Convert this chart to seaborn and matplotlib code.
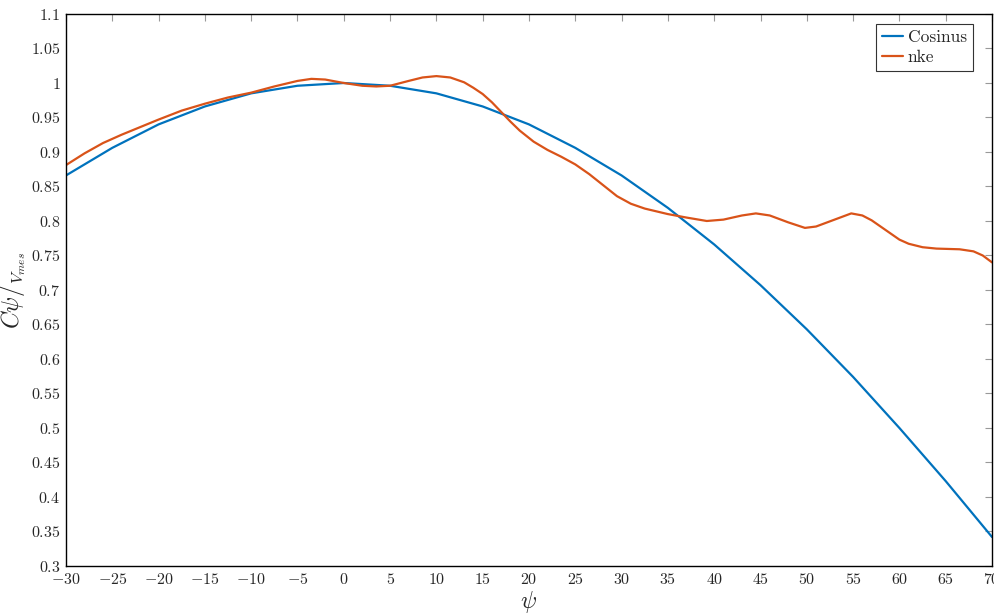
import numpy as np
import pandas as pd
import seaborn as sns
import matplotlib.pyplot as plt
from matplotlib.ticker import FuncFormatter, MultipleLocator

# values
psi_cos = [-30, -25, -20, -15, -10, -5, 0, 5, 10, 15, 20, 25, 30, 35, 40, 45, 50, 55, 60, 65, 70]
cosinus = [0.866, 0.906, 0.940, 0.966, 0.985, 0.996, 1.000, 0.996, 0.985, 0.966, 0.940,
           0.906, 0.866, 0.819, 0.766, 0.707, 0.643, 0.574, 0.500, 0.423, 0.342]

psi_nke = [-30, -28, -26, -24, -22, -20, -17.5, -15, -12.5, -10, -7.5, -5, -3.5, -2, 0,
           2, 3.5, 5, 7, 8.5, 10, 11.5, 13, 14, 15, 16, 17, 18, 19, 20.5, 22, 23.5, 25,
           26.5, 28, 29.5, 31, 32.5, 35, 37, 39.2, 41, 43, 44.5, 46, 48, 49.8, 51, 53,
           54.8, 56, 57, 58.5, 60, 61, 62.5, 64, 66.5, 68, 69, 70]
nke = [0.881, 0.898, 0.913, 0.925, 0.936, 0.947, 0.960, 0.970, 0.979, 0.986, 0.995, 1.003,
       1.006, 1.005, 1.000, 0.996, 0.995, 0.996, 1.003, 1.008, 1.010, 1.008, 1.001, 0.993,
       0.984, 0.972, 0.958, 0.944, 0.931, 0.915, 0.903, 0.893, 0.882, 0.868, 0.852, 0.836,
       0.825, 0.818, 0.810, 0.805, 0.800, 0.802, 0.808, 0.811, 0.808, 0.798, 0.790, 0.792,
       0.802, 0.811, 0.808, 0.801, 0.787, 0.773, 0.767, 0.762, 0.760, 0.759, 0.756, 0.750,
       0.740]

df = pd.concat([
    pd.DataFrame({'psi': psi_cos, 'val': cosinus, 'serie': 'Cosinus'}),
    pd.DataFrame({'psi': psi_nke, 'val': nke, 'serie': 'nke'}),
])

sns.set_style('white')
plt.rcParams['mathtext.fontset'] = 'cm'
plt.rcParams['font.family'] = ['cmr10', 'DejaVu Serif']
plt.rcParams['axes.formatter.use_mathtext'] = True

fig = plt.figure(figsize=(9.95, 6.14), dpi=100)
ax = fig.add_axes([0.0663, 0.0782, 0.9307, 0.899])

sns.lineplot(data=df, x='psi', y='val', hue='serie', sort=False,
             palette={'Cosinus': '#0072BD', 'nke': '#D95319'}, linewidth=1.6, ax=ax)

ax.set_xlim(-30, 70)
ax.set_ylim(0.3, 1.1)
ax.xaxis.set_major_locator(MultipleLocator(5))
ax.yaxis.set_major_locator(MultipleLocator(0.05))
fmt = FuncFormatter(lambda v, p: '$%s$' % ('%g' % round(v, 2)))
ax.xaxis.set_major_formatter(fmt)
ax.yaxis.set_major_formatter(fmt)
ax.tick_params(direction='in', length=5, width=0.8, color='#999999',
               top=True, right=True, labelsize=11.5, labelcolor='#262626', pad=4)
for s in ax.spines.values():
    s.set_color('black')
    s.set_linewidth(1.0)

ax.set_xlabel(r'$\psi$', fontsize=17, labelpad=2)
ax.set_ylabel(r'$C\psi/{}_{V_{mes}}$', fontsize=17, labelpad=2)

leg = ax.legend(loc='upper right', fontsize=12.5, handlelength=1.2, handletextpad=0.3,
                borderpad=0.35, labelspacing=0.25, fancybox=False, framealpha=1,
                edgecolor='#333333', bbox_to_anchor=(0.9795, 0.982), borderaxespad=0)
leg.get_frame().set_linewidth(0.8)

fig.savefig('out.png', dpi=100)
